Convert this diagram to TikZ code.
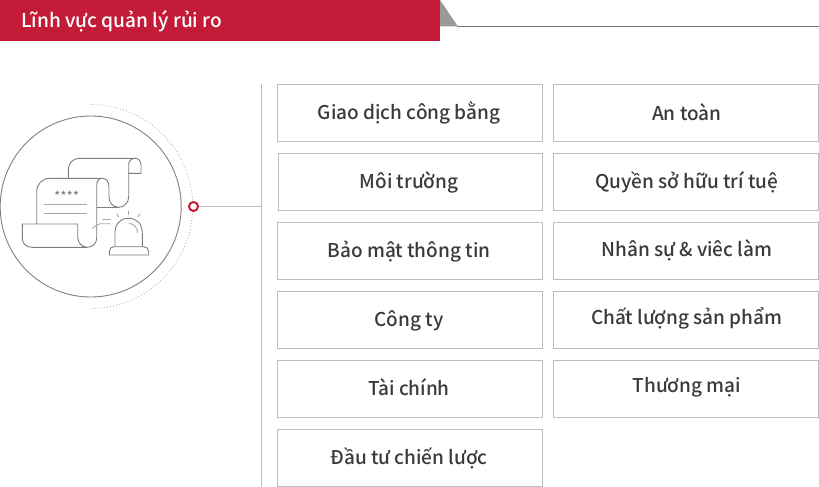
\documentclass[tikz,border=0pt]{standalone}
\usepackage{fontspec}
\setmainfont{Noto Sans CJK KR}[UprightFont=* Medium]
\newfontfamily\symf{DejaVu Sans}
\begin{document}
\begin{tikzpicture}[x=1pt,y=-1pt,
  cell/.style={draw=boxgrey,line width=1pt,minimum width=265pt,minimum height=57pt,inner sep=0pt,outer sep=0pt,anchor=north west},
  celltext/.style={text=txtdark,font=\fontsize{19}{22}\selectfont,inner sep=0pt,anchor=base},
  icon/.style={draw=icongrey,line width=.9pt,line join=round,line cap=round},
  thinicon/.style={draw=iconlight,line width=.9pt,line cap=round}]
\definecolor{boxgrey}{HTML}{BDBDBD}
\definecolor{txtdark}{HTML}{3A3A3A}
\definecolor{icongrey}{HTML}{7C7C7C}
\definecolor{iconlight}{HTML}{A8A8A8}
\definecolor{hred}{HTML}{C41C38}
\useasboundingbox (0,0) rectangle (819,487);
% header
\fill[hred] (0,0) rectangle (440,41);
\fill[black!40] (440,0) -- (458,26.5) -- (440,26.5) -- cycle;
\draw[draw=black!55,line width=1pt] (457,26.5) -- (819,26.5);
\node[anchor=base west,text=white,inner sep=0pt,font=\fontsize{19.1}{22}\selectfont] (title) at (21,28) {Lĩnh vực quản lý rủi ro};
% vertical rule
\coordinate (vtop) at (261.5,84);
\coordinate (vbot) at (261.5,487);
\coordinate (vmid) at (261.5,206.5);
\draw[draw=boxgrey,line width=1pt] (vtop) -- (vbot);
% circle and dotted arc
\node[circle,draw=black!50,line width=.9pt,minimum size=181pt,inner sep=0pt] (disc) at (90.7,206.5) {};
\draw[draw=black!35,line width=.8pt,dash pattern=on .8pt off 2.2pt] (90.7,104.5) arc[start angle=90,end angle=-90,radius=102pt];
\node[circle,draw=hred,fill=white,line width=2pt,minimum size=9pt,inner sep=0pt] (dot) at (193.5,206.5) {};
\draw[draw=boxgrey,line width=1pt] (dot) -- (vmid);
% back scroll
\draw[icon] (68.3,178.3) -- (68.3,170) .. controls (68.3,163) and (73,158.3) .. (80,158.3) -- (135,158.3)
  .. controls (138.5,158.3) and (141,161) .. (141,165) -- (141,173.3) -- (128.7,173.3);
\draw[icon] (135,158.3) .. controls (131.5,158.3) and (128.7,161) .. (128.7,165) -- (128.7,196.7)
  .. controls (128.7,203) and (124,207.3) .. (118.7,207.3) .. controls (113,207.3) and (109,203) .. (109,196.7)
  -- (109,186.7) .. controls (109,181) and (106,178.3) .. (102,178.3);
\draw[draw=icongrey,line width=1.2pt] (96.7,207.3) -- (118.7,207.3);
% front scroll
\draw[icon] (36.7,224) -- (36.7,192) .. controls (36.7,184) and (42,178.3) .. (50,178.3) -- (102,178.3)
  .. controls (99,178.3) and (96.7,181) .. (96.7,185) -- (96.7,238) .. controls (96.7,243.5) and (92.5,247.3) .. (87.3,247.3)
  .. controls (82,247.3) and (77.7,243) .. (77.7,237) -- (77.7,224) -- (22.3,224) -- (22.3,238)
  .. controls (22.3,243.5) and (26,247.3) .. (32,247.3) -- (87.3,247.3);
\node[text=black!50,inner sep=0pt,font=\symf\fontsize{7}{8}\selectfont] (stars) at (66.7,193) {★★★★};
\draw[thinicon] (44.3,204) -- (86.7,204);
\draw[thinicon] (44.3,213.3) -- (86.7,213.3);
\draw[thinicon] (102.7,219) -- (110.3,219);
\draw[thinicon] (110.3,223.7) -- (101,223.7) .. controls (98,223.7) and (95,226.5) .. (92.3,228.3);
% alarm
\draw[icon] (115,246.7) -- (115,233.3) .. controls (115,224) and (120,218.3) .. (128.5,218.3)
  .. controls (137,218.3) and (142.3,224) .. (142.3,233.3) -- (142.3,246.7);
\draw[icon] (109.3,255) -- (109.3,251.5) .. controls (109.3,248.5) and (111.5,246.7) .. (114,246.7) -- (143.5,246.7)
  .. controls (146.5,246.7) and (148.7,248.5) .. (148.7,251.5) -- (148.7,255) -- cycle;
\draw[thinicon] (129.3,223.3) .. controls (134,224) and (137.5,228) .. (137.7,232.7);
\draw[thinicon] (128.3,211) -- (128.3,214.7);
\draw[thinicon] (116.7,214) -- (118.8,217);
\draw[thinicon] (140,214) -- (137.9,217);
% left column
\node[cell] (a1) at (277.5,84.5) {};
\node[cell,minimum width=264pt] (a2) at (278.5,153.5) {};
\node[cell] (a3) at (277.5,222.5) {};
\node[cell] (a4) at (277.5,291.5) {};
\node[cell] (a5) at (277.5,360.5) {};
\node[cell] (a6) at (277.5,429.5) {};
% right column
\node[cell] (b1) at (553.5,84.5) {};
\node[cell] (b2) at (553.5,153.5) {};
\node[cell] (b3) at (553.5,222.5) {};
\node[cell] (b4) at (553.5,291.5) {};
\node[cell] (b5) at (553.5,360.5) {};
% labels
\node[celltext] (ta1) at (409,119) {Giao dịch công bằng};
\node[celltext] (ta2) at (409,188) {Môi trường};
\node[celltext] (ta3) at (409,257) {Bảo mật thông tin};
\node[celltext] (ta4) at (409,326) {Công ty};
\node[celltext] (ta5) at (409,395) {Tài chính};
\node[celltext] (ta6) at (409,464) {Đầu tư chiến lược};
\node[celltext] (tb1) at (686.8,120) {An toàn};
\node[celltext] (tb2) at (686.8,188) {Quyền sở hữu trí tuệ};
\node[celltext] (tb3) at (686.8,256.3) {Nhân sự \& viêc làm};
\node[celltext] (tb4) at (686.8,324.3) {Chất lượng sản phẩm};
\node[celltext] (tb5) at (686.8,392.3) {Thương mại};
\end{tikzpicture}
\end{document}
